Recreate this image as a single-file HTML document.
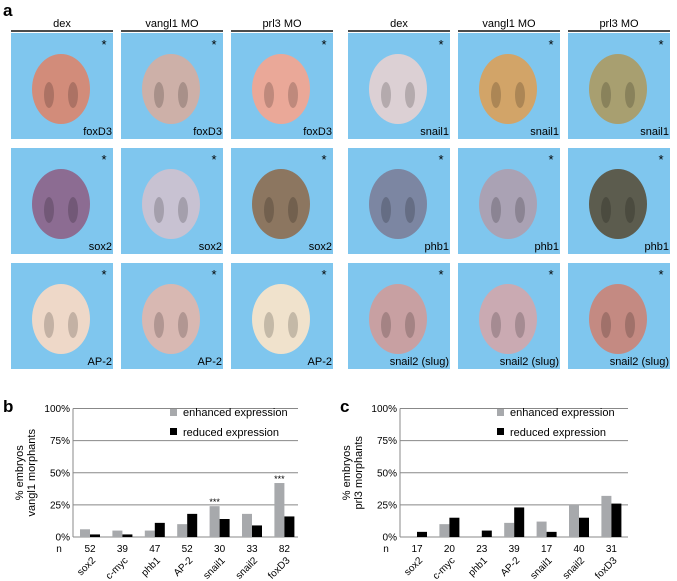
<!DOCTYPE html>
<html><head><meta charset="utf-8"><style>
body{margin:0;background:#fff;font-family:"Liberation Sans",sans-serif}
svg{display:block}
text{font-family:"Liberation Sans",sans-serif}
</style></head><body>
<svg width="677" height="581" viewBox="0 0 677 581">
<text x="3" y="16" font-size="17" font-weight="bold">a</text>
<g id="panels"></g>
<text x="3" y="412" font-size="17" font-weight="bold">b</text>
<text x="340" y="412" font-size="17" font-weight="bold">c</text>
<g id="chartB"></g>
<g id="chartC"></g>
</svg>
<script>
const NS="http://www.w3.org/2000/svg";
function mk(p,t,a){const e=document.createElementNS(NS,t);for(const k in a)e.setAttribute(k,a[k]);p.appendChild(e);return e;}
// Panel a
const colHeads=["dex","vangl1 MO","prl3 MO"];
const genesL=["foxD3","sox2","AP-2"];
const genesR=["snail1","phb1","snail2 (slug)"];
const embColors=[["#d28c7a","#cdb0a8","#eaa898","#dcd0d4","#d2a468","#a89f70"],
["#8c6c92","#c8c2d2","#8c7660","#7c86a2","#aaa2b4","#5c5c4e"],
["#eed8c8","#d8b8b2","#f0e2cc","#c8a0a2","#caaab2","#c48a82"]];
const P=document.getElementById('panels');
const groupX=[11,348];
for(let g=0;g<2;g++){
 for(let c=0;c<3;c++){
  const x=groupX[g]+c*110;
  const hl=mk(P,'line',{x1:x,x2:x+102,y1:31,y2:31,stroke:'#111','stroke-width':1.5});
  
  
  const ht=mk(P,'text',{x:x+51,y:27,'font-size':11,'text-anchor':'middle'});ht.textContent=colHeads[c];
  
  
  for(let r=0;r<3;r++){
   const y=33+r*115;
   const rc=mk(P,'rect',{x:x,y:y,width:102,height:106,fill:'#7fc6ee'});
   
   
   const col=embColors[r][g*3+c];
   mk(P,'ellipse',{cx:x+50,cy:y+56,rx:29,ry:35,fill:col});
   mk(P,'ellipse',{cx:x+38,cy:y+62,rx:5,ry:13,fill:'#000','fill-opacity':0.18});
   mk(P,'ellipse',{cx:x+62,cy:y+62,rx:5,ry:13,fill:'#000','fill-opacity':0.18});
   const st=mk(P,'text',{x:x+93,y:y+16,'font-size':13,'text-anchor':'middle'});st.textContent='*';
   
   
   const gl=mk(P,'text',{x:x+101,y:y+102,'font-size':11,'text-anchor':'end'});gl.textContent=(g?genesR:genesL)[r];
   
   
  }
 }
}
// Charts data
const categories=["sox2","c-myc","phb1","AP-2","snail1","snail2","foxD3"];
const nB=["52","39","47","52","30","33","82"];
const enhancedB=[6,5,5,10,24,18,42];
const reducedB=[2,2,11,18,14,9,16];
const sigB=["","","","","***","","***"];
const nC=["17","20","23","39","17","40","31"];
const enhancedC=[0,10,0,11,12,25,32];
const reducedC=[4,15,5,23,4,15,26];
const yTicks=[0,25,50,75,100];
function chart(G,x0,x1,c0,yl2,n,enh,red,sig){
 const yTop=408.5,yBot=537;
 const Y=v=>yBot-(yBot-yTop)*v/100;
 const X=i=>c0+32.4*i;
 yTicks.forEach(t=>{
  if(t>0){const l=mk(G,'line',{x1:x0,x2:x1,y1:Y(t),y2:Y(t),stroke:'#888','stroke-width':1});
  
  }
  const tx=mk(G,'text',{x:x0-3,y:Y(t)+3.5,'font-size':10,'text-anchor':'end'});tx.textContent=t+'%';
  
  
 });
 const ax=mk(G,'line',{x1:x0,x2:x0,y1:yTop,y2:yBot,stroke:'#888'});
 
 
 const bx=mk(G,'line',{x1:x0,x2:x1,y1:yBot,y2:yBot,stroke:'#888'});
 
 
 const yt=mk(G,'text',{transform:`translate(${x0-44},${(yTop+yBot)/2}) rotate(-90)`,'font-size':11,'text-anchor':'middle'});
 
 
 const t1=mk(yt,'tspan',{x:0,dy:-6});t1.textContent='% embryos';
 const t2=mk(yt,'tspan',{x:0,dy:12});t2.textContent=yl2;
 const nl=mk(G,'text',{x:x0-14,y:552,'font-size':10,'text-anchor':'middle'});nl.textContent='n';
 
 
 categories.forEach((c,i)=>{
  const cx=X(i);
  const b1=mk(G,'rect',{x:cx-10,y:Y(enh[i]),width:10,height:yBot-Y(enh[i]),fill:'#a7a9ac'});
  
  
  const b2=mk(G,'rect',{x:cx,y:Y(red[i]),width:10,height:yBot-Y(red[i]),fill:'#000'});
  
  
  if(sig[i]){const s=mk(G,'text',{x:cx-5,y:Y(enh[i])-1,'font-size':9,'text-anchor':'middle'});s.textContent=sig[i];
   
   }
  const nt=mk(G,'text',{x:cx,y:552,'font-size':10,'text-anchor':'middle'});nt.textContent=n[i];
  
  
  const cl=mk(G,'text',{transform:`translate(${cx+6},${561}) rotate(-45)`,'font-size':10,'text-anchor':'end'});cl.textContent=c;
  
  
 });
 const lx=x0+97;
 const lg1=mk(G,'rect',{x:lx,y:409,width:7,height:7,fill:'#a7a9ac'});
 
 
 const lt1=mk(G,'text',{x:lx+13,y:416,'font-size':11});lt1.textContent='enhanced expression';
 
 
 const lg2=mk(G,'rect',{x:lx,y:428,width:7,height:7,fill:'#000'});
 
 
 const lt2=mk(G,'text',{x:lx+13,y:436,'font-size':11});lt2.textContent='reduced expression';
 
 
}
chart(document.getElementById('chartB'),73,298,90,'vangl1 morphants',nB,enhancedB,reducedB,sigB);
chart(document.getElementById('chartC'),400,628,417,'prl3 morphants',nC,enhancedC,reducedC,["","","","","","",""]);
</script>
</body></html>
